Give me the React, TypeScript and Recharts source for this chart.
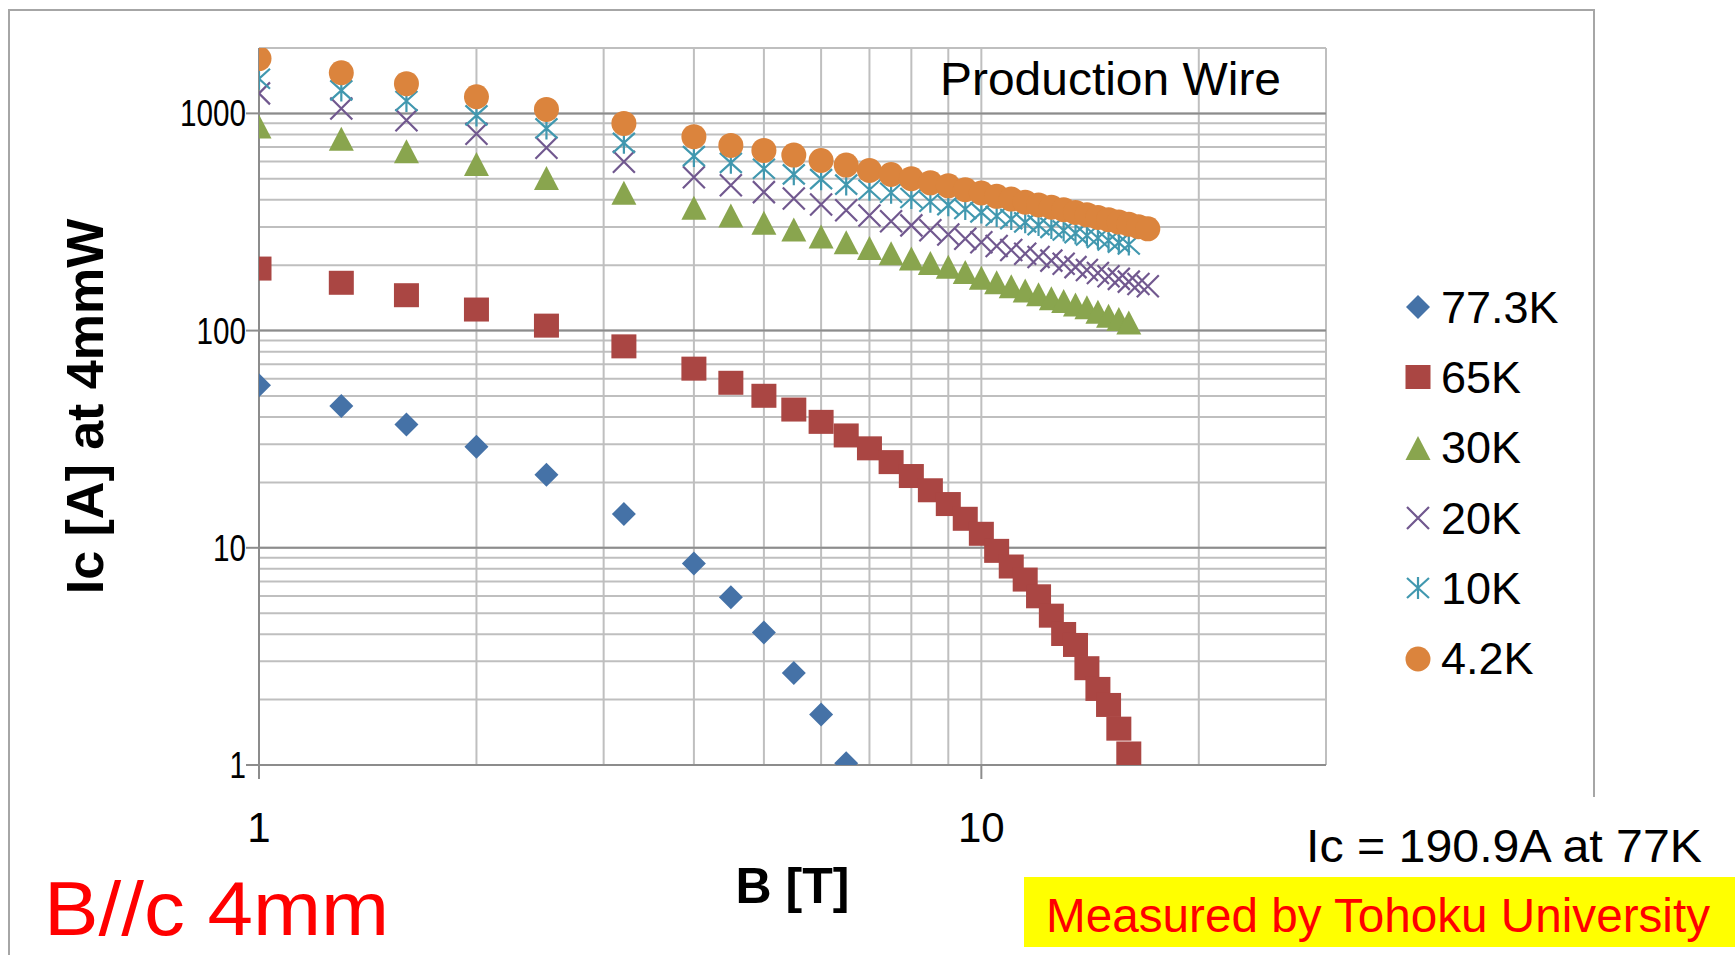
import React from 'react';
import { ScatterChart, Scatter, XAxis, YAxis, CartesianGrid, ReferenceLine, Legend } from 'recharts';

// applied field B [T] for each measurement step
const fieldB = [1, 1.3, 1.6, 2, 2.5, 3.2, 4, 4.5, 5, 5.5, 6, 6.5, 7, 7.5, 8, 8.5, 9, 9.5, 10, 10.5, 11, 11.5, 12, 12.5, 13, 13.5, 14, 14.5, 15, 15.5, 16, 16.5, 17];

// Ic [A] per temperature, in field order
const ic773K = [56, 45, 37, 29.2, 21.7, 14.3, 8.47, 5.92, 4.07, 2.65, 1.71, 1.02];
const ic65K = [193, 166, 145.5, 125, 105.4, 84.6, 66.8, 57.5, 50.1, 43.3, 38.0, 32.9, 28.7, 24.8, 21.4, 18.4, 15.9, 13.6, 11.6, 9.68, 8.2, 7.14, 5.98, 4.87, 4.01, 3.57, 2.79, 2.24, 1.89, 1.47, 1.13];
const ic30K = [871, 764, 670, 585, 504, 431, 368, 339, 314, 292, 271, 255, 240, 227, 215, 205, 197, 186, 175, 167, 160, 153, 147, 141, 137, 132, 128, 122, 117, 113, 109];
const ic20K = [1236, 1054, 929, 806, 695, 599, 508, 467, 434, 406, 381, 358, 339, 319, 305, 290, 277, 265, 255, 245, 235, 226, 218, 210, 203, 196, 190, 184, 178, 173, 168, 164, 160];
const ic10K = [1444, 1276, 1140, 979, 853, 732, 636, 592, 556, 524, 498, 470, 445, 431, 408, 392, 378, 363, 350, 337, 326, 315, 306, 297, 289, 281, 274, 267, 260, 254, 249];
const ic42K = [1787, 1539, 1370, 1193, 1043, 899, 781, 712, 675, 643, 607, 578, 546, 523, 500, 479, 464, 445, 430, 415, 403, 390, 379, 370, 360, 350, 341, 332, 324, 316, 309, 301, 294];

const xTicks = [1, 2, 3, 4, 5, 6, 7, 8, 9, 10, 20, 30];
const xLabels = [1, 10];
const yTicks = [1, 2, 3, 4, 5, 6, 7, 8, 9, 10, 20, 30, 40, 50, 60, 70, 80, 90, 100, 200, 300, 400, 500, 600, 700, 800, 900, 1000, 2000];
const yLabels = [1, 10, 100, 1000];

const toPoints = (vals: number[]) => vals.map((ic, i) => ({ b: fieldB[i], ic }));

type Kind = 'diamond' | 'square' | 'triangle' | 'x' | 'star' | 'circle';

const series: { name: string; kind: Kind; color: string; data: { b: number; ic: number }[] }[] = [
  { name: '77.3K', kind: 'diamond', color: '#4572A7', data: toPoints(ic773K) },
  { name: '65K', kind: 'square', color: '#AA4643', data: toPoints(ic65K) },
  { name: '30K', kind: 'triangle', color: '#89A54E', data: toPoints(ic30K) },
  { name: '20K', kind: 'x', color: '#71588F', data: toPoints(ic20K) },
  { name: '10K', kind: 'star', color: '#4198AF', data: toPoints(ic10K) },
  { name: '4.2K', kind: 'circle', color: '#DB843D', data: toPoints(ic42K) },
];

const FONT = "'Liberation Sans', Arial, sans-serif";
const GRID = '#BFBFBF';
const AXIS = '#8C8C8C';

function Marker({ kind, cx, cy, color }: { kind: Kind; cx: number; cy: number; color: string }) {
  switch (kind) {
    case 'diamond':
      return <path d={`M${cx} ${cy - 12}L${cx + 12} ${cy}L${cx} ${cy + 12}L${cx - 12} ${cy}Z`} fill={color} />;
    case 'square':
      return <rect x={cx - 12.5} y={cy - 12} width={25} height={24} fill={color} />;
    case 'triangle':
      return <path d={`M${cx} ${cy - 12}L${cx + 12.5} ${cy + 12}L${cx - 12.5} ${cy + 12}Z`} fill={color} />;
    case 'x':
      return (
        <path
          d={`M${cx - 11} ${cy - 11}L${cx + 11} ${cy + 11}M${cx - 11} ${cy + 11}L${cx + 11} ${cy - 11}`}
          stroke={color}
          strokeWidth={2.2}
        />
      );
    case 'star':
      return (
        <path
          d={`M${cx - 11} ${cy - 10}L${cx + 11} ${cy + 10}M${cx - 11} ${cy + 10}L${cx + 11} ${cy - 10}M${cx} ${cy - 11}L${cx} ${cy + 11}`}
          stroke={color}
          strokeWidth={2.2}
        />
      );
    default:
      return <circle cx={cx} cy={cy} r={12.5} fill={color} />;
  }
}

const XTick = ({ x, y, payload }: any) => {
  if (!xLabels.includes(payload.value)) return <g />;
  return (
    <g>
      <line x1={x} x2={x} y1={y} y2={y + 14} stroke={AXIS} strokeWidth={2} />
      <text x={x} y={y + 77} textAnchor="middle" fontSize={42} fill="#000" fontFamily={FONT}>
        {payload.value}
      </text>
    </g>
  );
};

const YTick = ({ x, y, payload }: any) => {
  if (!yLabels.includes(payload.value)) return <g />;
  const label = String(payload.value);
  return (
    <g>
      <line x1={x - 13} x2={x} y1={y} y2={y} stroke={AXIS} strokeWidth={2} />
      <text
        x={x - 13}
        y={y + 13}
        textAnchor="end"
        fontSize={37}
        textLength={16.5 * label.length}
        lengthAdjust="spacingAndGlyphs"
        fill="#000"
        fontFamily={FONT}
      >
        {label}
      </text>
    </g>
  );
};

const YTitle = ({ viewBox }: any) => {
  const cy = viewBox.y + viewBox.height / 2;
  return (
    <text
      x={103}
      y={cy}
      transform={`rotate(-90 103 ${cy})`}
      textAnchor="middle"
      fontSize={52}
      fontWeight="bold"
      fontFamily={FONT}
      fill="#000"
    >
      Ic [A] at 4mmW
    </text>
  );
};

const XTitle = ({ viewBox }: any) => (
  <text
    x={viewBox.x + viewBox.width / 2}
    y={903}
    textAnchor="middle"
    fontSize={50}
    fontWeight="bold"
    fontFamily={FONT}
    fill="#000"
  >
    B [T]
  </text>
);

const LegendBlock = () => (
  <div style={{ display: 'flex', flexDirection: 'column', fontFamily: FONT }}>
    {series.map((s) => (
      <div key={s.name} style={{ height: 70.3, display: 'flex', alignItems: 'center' }}>
        <svg width={26} height={26}>
          <Marker kind={s.kind} cx={13} cy={13} color={s.color} />
        </svg>
        <span style={{ marginLeft: 10, fontSize: 45, lineHeight: '45px', color: '#000' }}>{s.name}</span>
      </div>
    ))}
  </div>
);

export default function App() {
  return (
    <div
      style={{
        position: 'absolute',
        left: 0,
        top: 0,
        width: 1735,
        height: 955,
        overflow: 'hidden',
        background: '#fff',
        fontFamily: FONT,
      }}
    >
      <ScatterChart width={1735} height={955} margin={{ top: 48, right: 409, bottom: 160, left: 199 }}>
        <CartesianGrid stroke={GRID} strokeWidth={2} />
        <XAxis
          type="number"
          dataKey="b"
          scale="log"
          domain={[1, 30]}
          allowDataOverflow
          ticks={xTicks}
          interval={0}
          height={30}
          tickSize={0}
          tickMargin={0}
          tickLine={false}
          tick={<XTick />}
          axisLine={{ stroke: AXIS, strokeWidth: 2 }}
          label={<XTitle />}
        />
        <YAxis
          type="number"
          dataKey="ic"
          scale="log"
          domain={[1, 2000]}
          allowDataOverflow
          ticks={yTicks}
          interval={0}
          width={60}
          tickSize={0}
          tickMargin={0}
          tickLine={false}
          tick={<YTick />}
          axisLine={{ stroke: AXIS, strokeWidth: 2 }}
          label={<YTitle />}
        />
        {[10, 100, 1000].map((v) => (
          <ReferenceLine key={v} y={v} stroke={AXIS} strokeWidth={2} />
        ))}
        {series.map((s) => (
          <Scatter
            key={s.name}
            name={s.name}
            data={s.data}
            isAnimationActive={false}
            shape={(p: any) => <Marker kind={s.kind} cx={p.cx} cy={p.cy} color={s.color} />}
          />
        ))}
        <Legend
          layout="vertical"
          align="center"
          verticalAlign="middle"
          content={() => <LegendBlock />}
          wrapperStyle={{ left: 1405, top: 272, width: 220 }}
        />
      </ScatterChart>
      <svg
        width={1735}
        height={955}
        style={{ position: 'absolute', left: 0, top: 0, pointerEvents: 'none' }}
        fontFamily={FONT}
      >
        <path d="M9 955V10H1594V797" fill="none" stroke="#A6A6A6" strokeWidth={2} />
        <text x={940} y={95} fontSize={46} textLength={341} lengthAdjust="spacingAndGlyphs" fill="#000">
          Production Wire
        </text>
        <text x={1306} y={862} fontSize={47} textLength={396} lengthAdjust="spacingAndGlyphs" fill="#000">
          Ic = 190.9A at 77K
        </text>
        <rect x={1024} y={877} width={711} height={70} fill="#FFFF00" />
        <text x={1046} y={932} fontSize={48} textLength={664} lengthAdjust="spacingAndGlyphs" fill="#FF0000">
          Measured by Tohoku University
        </text>
        <text x={44} y={935} fontSize={76} textLength={345} lengthAdjust="spacingAndGlyphs" fill="#FF0000">
          B//c 4mm
        </text>
      </svg>
    </div>
  );
}
